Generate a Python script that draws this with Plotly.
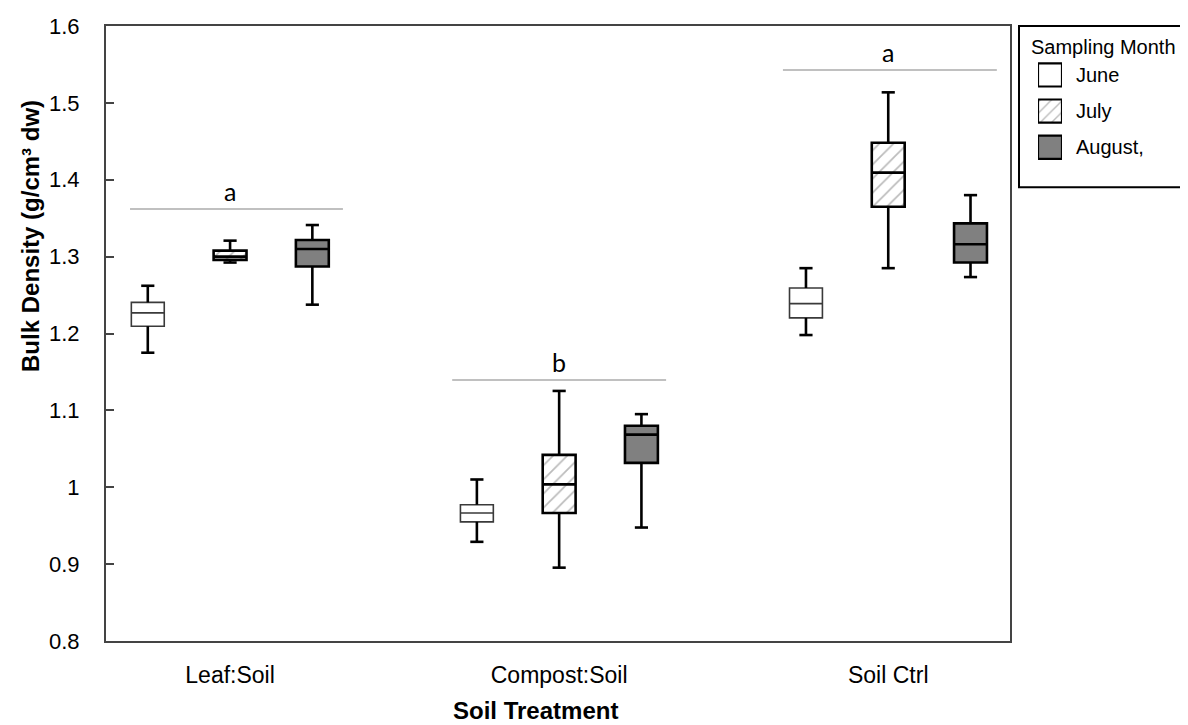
import plotly.graph_objects as go

# ---------------- data ----------------
categories = ["Leaf:Soil", "Compost:Soil", "Soil Ctrl"]
months = ["June", "July", "August,"]

june_low = [1.175, 0.929, 1.198]
june_q1 = [1.2095, 0.955, 1.2203]
june_med = [1.2268, 0.9666, 1.2388]
june_q3 = [1.2405, 0.9773, 1.2592]
june_high = [1.2621, 1.0101, 1.285]

july_low = [1.2923, 0.8954, 1.285]
july_q1 = [1.2958, 0.9666, 1.3648]
july_med = [1.300, 1.0037, 1.4093]
july_q3 = [1.3078, 1.0421, 1.4481]
july_high = [1.3208, 1.1253, 1.5137]

aug_low = [1.2375, 0.9476, 1.2734]
aug_q1 = [1.2871, 1.0317, 1.2923]
aug_med = [1.310, 1.0684, 1.316]
aug_q3 = [1.3217, 1.080, 1.3433]
aug_high = [1.3411, 1.0951, 1.380]

sig_letters = ["a", "b", "a"]
sig_y = [1.362, 1.1395, 1.5427]
sig_x0 = [-0.304, 0.675, 1.68]
sig_x1 = [0.343, 1.325, 2.33]

y_ticks = [0.8, 0.9, 1.0, 1.1, 1.2, 1.3, 1.4, 1.5, 1.6]

# ---------------- layout constants ----------------
FONT = "Arial, Liberation Sans, sans-serif"
offsets = [-0.25, 0.0, 0.25]
BOX_W = 0.1
CAP = 0.02
W, H = 1188, 725
ML, MR, MT, MB = 98, 6, 15, 92
PW = W - ML - MR
PH = H - MT - MB
plot_right = 1002


def px_x(p):
    return (p - ML) / PW


def px_y(p):
    return (H - MB - p) / PH


series = [
    dict(name="June", low=june_low, q1=june_q1, med=june_med, q3=june_q3, high=june_high,
         fill="white", lc="#3a3a3a", lw=1.6),
    dict(name="July", low=july_low, q1=july_q1, med=july_med, q3=july_q3, high=july_high,
         fill="rgba(0,0,0,0)", lc="black", lw=2.6),
    dict(name="August,", low=aug_low, q1=aug_q1, med=aug_med, q3=aug_q3, high=aug_high,
         fill="#808080", lc="black", lw=2.6),
]

fig = go.Figure()

# whiskers
for k, s in enumerate(series):
    xs, ys = [], []
    for i in range(len(categories)):
        p = i + offsets[k]
        xs += [p, p, None, p, p, None, p - CAP, p + CAP, None, p - CAP, p + CAP, None]
        ys += [s["q3"][i], s["high"][i], None, s["q1"][i], s["low"][i], None,
               s["high"][i], s["high"][i], None, s["low"][i], s["low"][i], None]
    fig.add_trace(go.Scatter(x=xs, y=ys, mode="lines", line=dict(color="black", width=2.6),
                             showlegend=False, hoverinfo="skip"))

# hatched fill for July boxes
july_pos = [i + offsets[1] for i in range(len(categories))]
fig.add_trace(go.Bar(x=july_pos, y=[july_q3[i] - july_q1[i] for i in range(3)], base=july_q1,
                     width=BOX_W,
                     marker=dict(color="white", line=dict(width=0),
                                 pattern=dict(shape="/", fgcolor="#777777", bgcolor="white",
                                              size=10, solidity=0.17)),
                     showlegend=False, hoverinfo="skip"))

# boxes
for k, s in enumerate(series):
    pos = [i + offsets[k] for i in range(len(categories))]
    fig.add_trace(go.Box(x=pos, q1=s["q1"], median=s["med"], q3=s["q3"],
                         lowerfence=s["q1"], upperfence=s["q3"], width=BOX_W,
                         whiskerwidth=0, boxpoints=False,
                         fillcolor=s["fill"], line=dict(color=s["lc"], width=s["lw"]),
                         name=s["name"], showlegend=False))

# legend swatches (own small axes)
sw_fill = ["white", "white", "#808080"]
for k, s in enumerate(series):
    mk = dict(color=sw_fill[k], line=dict(color="black", width=2.2))
    if k == 1:
        mk["pattern"] = dict(shape="/", fgcolor="#777777", bgcolor="white", size=8, solidity=0.17)
    fig.add_trace(go.Bar(x=[1], y=[k], base=[0], orientation="h", width=0.64, marker=mk,
                         xaxis="x2", yaxis="y2", showlegend=False, hoverinfo="skip"))

shapes = []
annotations = []
for i in range(len(categories)):
    shapes.append(dict(type="line", xref="x", yref="y", x0=sig_x0[i], x1=sig_x1[i],
                       y0=sig_y[i], y1=sig_y[i], line=dict(color="#ababab", width=1.5)))
    annotations.append(dict(x=i, y=sig_y[i], xref="x", yref="y", text=sig_letters[i],
                            showarrow=False, yanchor="bottom", yshift=1,
                            font=dict(family="Lato, Open Sans, sans-serif", size=25, color="black")))

# legend frame and texts
shapes.append(dict(type="rect", xref="paper", yref="paper", x0=px_x(1011), x1=px_x(1181),
                   y0=px_y(177), y1=px_y(15), line=dict(color="black", width=2)))
annotations.append(dict(x=px_x(1021), y=px_y(36), xref="paper", yref="paper",
                        text="Sampling Month", showarrow=False, xanchor="left", yanchor="middle",
                        font=dict(family=FONT, size=20, color="black")))
for k, s in enumerate(series):
    annotations.append(dict(x=px_x(1066), y=px_y([64, 100, 137][k]), xref="paper", yref="paper",
                            text=s["name"], showarrow=False, xanchor="left", yanchor="middle",
                            font=dict(family=FONT, size=20, color="black")))

# axis titles
annotations.append(dict(x=px_x(527), y=px_y(703), xref="paper", yref="paper",
                        text="<b>Soil Treatment</b>", showarrow=False, xanchor="center",
                        yanchor="middle", font=dict(family=FONT, size=24, color="black")))
annotations.append(dict(x=px_x(23), y=px_y(226), xref="paper", yref="paper",
                        text="<b>Bulk Density (g/cm³ dw)</b>", showarrow=False, textangle=-90,
                        xanchor="center", yanchor="middle",
                        font=dict(family=FONT, size=24, color="black")))

fig.update_layout(
    width=W, height=H,
    margin=dict(l=ML, r=MR, t=MT, b=MB),
    paper_bgcolor="white", plot_bgcolor="white",
    barmode="overlay", boxmode="overlay",
    showlegend=False,
    shapes=shapes, annotations=annotations,
    xaxis=dict(domain=[0, px_x(plot_right)], range=[-0.377, 2.37],
               tickvals=list(range(len(categories))), ticktext=categories,
               ticks="", showgrid=False, zeroline=False, showline=True, mirror=True,
               linecolor="#444", linewidth=2, ticklabelstandoff=12,
               tickfont=dict(family=FONT, size=23, color="black")),
    yaxis=dict(range=[0.8, 1.6], tickvals=y_ticks, ticktext=[f"{v:g}" for v in y_ticks],
               ticks="inside", ticklen=8, tickwidth=2, tickcolor="#444",
               showgrid=False, zeroline=False, showline=True, mirror=True,
               linecolor="#444", linewidth=2, ticklabelstandoff=20,
               tickfont=dict(family=FONT, size=22, color="black")),
    xaxis2=dict(domain=[px_x(1030), px_x(1054)], range=[0, 1], anchor="y2",
                visible=False, fixedrange=True),
    yaxis2=dict(domain=[px_y(155), px_y(46)], range=[2.5, -0.5], anchor="x2",
                visible=False, fixedrange=True),
)

fig.write_html("out.html")
